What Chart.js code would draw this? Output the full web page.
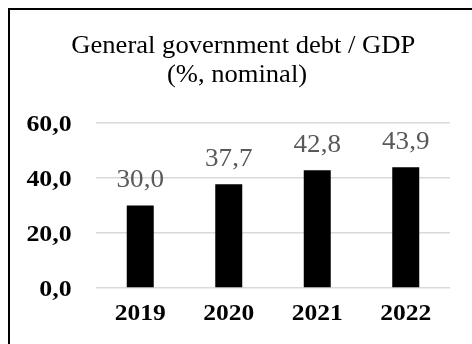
<!DOCTYPE html>
<html>
<head>
<meta charset="utf-8">
<script src="https://cdn.jsdelivr.net/npm/chart.js@4/dist/chart.umd.min.js"></script>
<style>
  html, body { margin: 0; padding: 0; background: #ffffff; }
  #wrap { width: 472px; height: 344px; position: relative; }
  canvas { display: block; }
</style>
</head>
<body>
<div id="wrap"><canvas id="chart" width="472" height="344"></canvas></div>
<script>
// Debt-to-GDP ratio by year
const years = ['2019', '2020', '2021', '2022'];
const debtToGdp = [30.0, 37.7, 42.8, 43.9];
const yTickValues = [0, 20, 40, 60];
const titleLines = ['General government debt / GDP', '(%, nominal)'];

const SERIF = '"Liberation Serif", "Times New Roman", serif';

// Decimal comma formatting, one decimal place
function fmt(v) {
  return Number(v).toFixed(1).replace('.', ',');
}

// Draws text with a slight horizontal widening (sx), anchored at (x, y)
function drawText(ctx, text, x, y, font, color, align, sx) {
  ctx.save();
  ctx.font = font;
  ctx.fillStyle = color;
  ctx.textAlign = align;
  ctx.textBaseline = 'alphabetic';
  ctx.translate(x, y);
  ctx.scale(sx, 1);
  ctx.fillText(text, 0, 0);
  ctx.restore();
}

// White page and the framing lines along the top and left edges
const framePlugin = {
  id: 'frame',
  beforeDraw(chart) {
    const ctx = chart.ctx;
    ctx.save();
    ctx.fillStyle = '#ffffff';
    ctx.fillRect(0, 0, chart.width, chart.height);
    ctx.restore();
  },
  afterDraw(chart) {
    const ctx = chart.ctx;
    ctx.save();
    ctx.fillStyle = '#000000';
    ctx.fillRect(8, 8, chart.width, 2);
    ctx.fillRect(8, 8, 2, chart.height);
    ctx.restore();
  }
};

// Two-line title
const titlePlugin = {
  id: 'titleText',
  afterDraw(chart) {
    const ctx = chart.ctx;
    const font = '25px ' + SERIF;
    drawText(ctx, titleLines[0], 243.3, 53.3, font, '#000000', 'center', 1.063);
    drawText(ctx, titleLines[1], 237, 81.7, font, '#000000', 'center', 1.063);
  }
};

// Axis labels, placed at the scales' own tick positions
const axisLabels = {
  id: 'axisLabels',
  afterDraw(chart) {
    const ctx = chart.ctx;
    const xs = chart.scales.x;
    const ys = chart.scales.y;
    const bold = 'bold 23px ' + SERIF;
    ys.ticks.forEach((t, i) => {
      const y = ys.getPixelForTick(i);
      drawText(ctx, fmt(t.value), 71.7, y + 8, bold, '#000000', 'right', 1.125);
    });
    chart.data.labels.forEach((lab, i) => {
      const x = xs.getPixelForTick(i);
      drawText(ctx, lab, x, 320, bold, '#000000', 'center', 1.11);
    });
  }
};

// Value labels above each bar
const valueLabels = {
  id: 'valueLabels',
  afterDatasetsDraw(chart) {
    const ctx = chart.ctx;
    const meta = chart.getDatasetMeta(0);
    const data = chart.data.datasets[0].data;
    meta.data.forEach((bar, i) => {
      drawText(ctx, fmt(data[i]), bar.x, bar.y - 18.5, '26px ' + SERIF, '#595959', 'center', 1.04);
    });
  }
};

new Chart(document.getElementById('chart'), {
  type: 'bar',
  data: {
    labels: years,
    datasets: [{
      data: debtToGdp,
      backgroundColor: '#000000',
      borderWidth: 0,
      categoryPercentage: 0.61,
      barPercentage: 0.5
    }]
  },
  options: {
    responsive: false,
    animation: false,
    devicePixelRatio: 1,
    layout: { padding: { left: 0, right: 22, top: 123, bottom: 0 } },
    plugins: {
      legend: { display: false },
      tooltip: { enabled: false },
      title: { display: false }
    },
    scales: {
      x: {
        grid: { display: false, drawTicks: false },
        border: { display: false },
        ticks: { display: false },
        afterFit(scale) { scale.height = 56; }
      },
      y: {
        min: 0,
        max: 60,
        afterBuildTicks(scale) {
          scale.ticks = yTickValues.map(v => ({ value: v }));
        },
        grid: { color: '#d9d9d9', lineWidth: 1.5, drawTicks: false, tickLength: 0 },
        border: { display: false },
        ticks: { display: false },
        afterFit(scale) { scale.width = 96; }
      }
    }
  },
  plugins: [framePlugin, titlePlugin, axisLabels, valueLabels]
});
</script>
</body>
</html>
